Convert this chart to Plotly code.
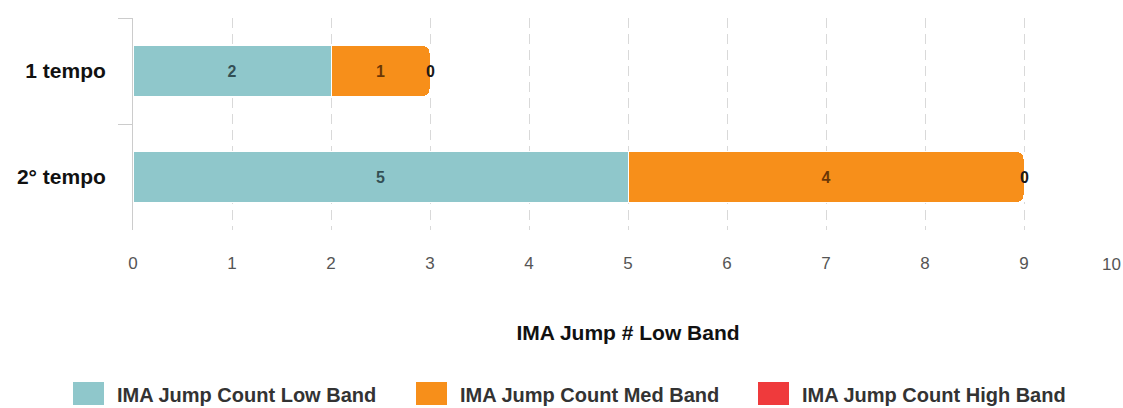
import plotly.graph_objects as go

# Halves of the match and jump counts per intensity band
periods = ["1 tempo", "2° tempo"]
low_band = [2, 5]
med_band = [1, 4]
high_band = [0, 0]

x_ticks = list(range(0, 11))

band_names = ["IMA Jump Count Low Band", "IMA Jump Count Med Band", "IMA Jump Count High Band"]
band_values = [low_band, med_band, high_band]
band_colors = ["#8fc7cb", "#f78f1a", "#ef3a3c"]
label_colors = ["rgba(20,40,45,0.75)", "rgba(60,25,0,0.75)", "#1a1a1a"]

W, H = 1123, 408
M_L, M_R, M_T, M_B = 133, 0, 18, 178
PLOT_W = W - M_L - M_R
PLOT_H = H - M_T - M_B

BOLD = dict(family="Arial, Liberation Sans", weight="bold")
TICK_FONT = dict(family="Arial, Liberation Sans", size=17, color="#555")


def px_x(px):
    """Pixel column -> paper x."""
    return (px - M_L) / PLOT_W


def px_y(py):
    """Pixel row (from top) -> paper y."""
    return (H - M_B - py) / PLOT_H


fig = go.Figure()
for name, vals, color, txtcolor in zip(band_names, band_values, band_colors, label_colors):
    fig.add_trace(go.Bar(
        y=periods,
        x=vals,
        name=name,
        orientation="h",
        showlegend=False,
        marker=dict(color=color, line=dict(color="white", width=1)),
        text=vals,
        texttemplate="%{x}",
        textposition="inside",
        insidetextanchor="middle",
        textangle=0,
        constraintext="none",
        cliponaxis=False,
        textfont=dict(size=16, color=txtcolor, **BOLD),
        hoverinfo="skip",
    ))

# Zero-width segments: their value labels sit centred on the end of each stack
totals = [a + b + c for a, b, c in zip(low_band, med_band, high_band)]
for period, total, v in zip(periods, totals, high_band):
    fig.add_annotation(
        x=total, y=period, xref="x", yref="y",
        text=str(v), showarrow=False, xanchor="center",
        font=dict(size=16, color=label_colors[2], **BOLD),
    )

# Last x tick label is kept inside the right edge of the page
tick_text = [str(t) for t in x_ticks]
fig.add_annotation(
    x=x_ticks[-1], xref="x", y=px_y(264), yref="paper",
    text=tick_text[-1], showarrow=False,
    xanchor="right", yanchor="middle",
    font=TICK_FONT,
)
tick_text[-1] = ""

# Legend: wide rectangular swatches followed by the series names
legend_swatch_left = [73, 416, 758]
swatch_w, swatch_top, swatch_bot = 31, 382, 405
for left, name, color in zip(legend_swatch_left, band_names, band_colors):
    fig.add_shape(
        type="rect", xref="paper", yref="paper",
        x0=px_x(left), x1=px_x(left + swatch_w),
        y0=px_y(swatch_bot), y1=px_y(swatch_top),
        fillcolor=color, line=dict(width=0), layer="above",
    )
    fig.add_annotation(
        xref="paper", yref="paper",
        x=px_x(left + swatch_w + 11), y=px_y(395),
        xanchor="left", yanchor="middle",
        text=name, showarrow=False,
        font=dict(size=20, color="#333", **BOLD),
    )

fig.update_layout(
    width=W,
    height=H,
    barmode="stack",
    bargap=0.52,
    barcornerradius=7,
    plot_bgcolor="white",
    paper_bgcolor="white",
    margin=dict(l=M_L, r=M_R, t=M_T, b=M_B, autoexpand=False),
    font=dict(family="Arial, Liberation Sans", color="#333"),
    showlegend=False,
)

fig.update_xaxes(
    range=[0, 10],
    tickvals=x_ticks,
    ticktext=tick_text,
    showgrid=True,
    gridcolor="#d9d9d9",
    griddash="10px,6px",
    gridwidth=1,
    zeroline=False,
    showline=False,
    ticks="",
    ticklabelstandoff=21,
    tickfont=TICK_FONT,
    title=dict(
        text="IMA Jump # Low Band",
        standoff=53,
        font=dict(size=21, color="#111", **BOLD),
    ),
)

fig.update_yaxes(
    autorange="reversed",
    showline=True,
    linecolor="#cccccc",
    linewidth=1,
    ticks="outside",
    tickson="boundaries",
    ticklen=14,
    tickcolor="#cccccc",
    showgrid=False,
    ticklabelstandoff=22,
    tickfont=dict(size=21, color="#111", **BOLD),
)

fig.write_html("out.html")
